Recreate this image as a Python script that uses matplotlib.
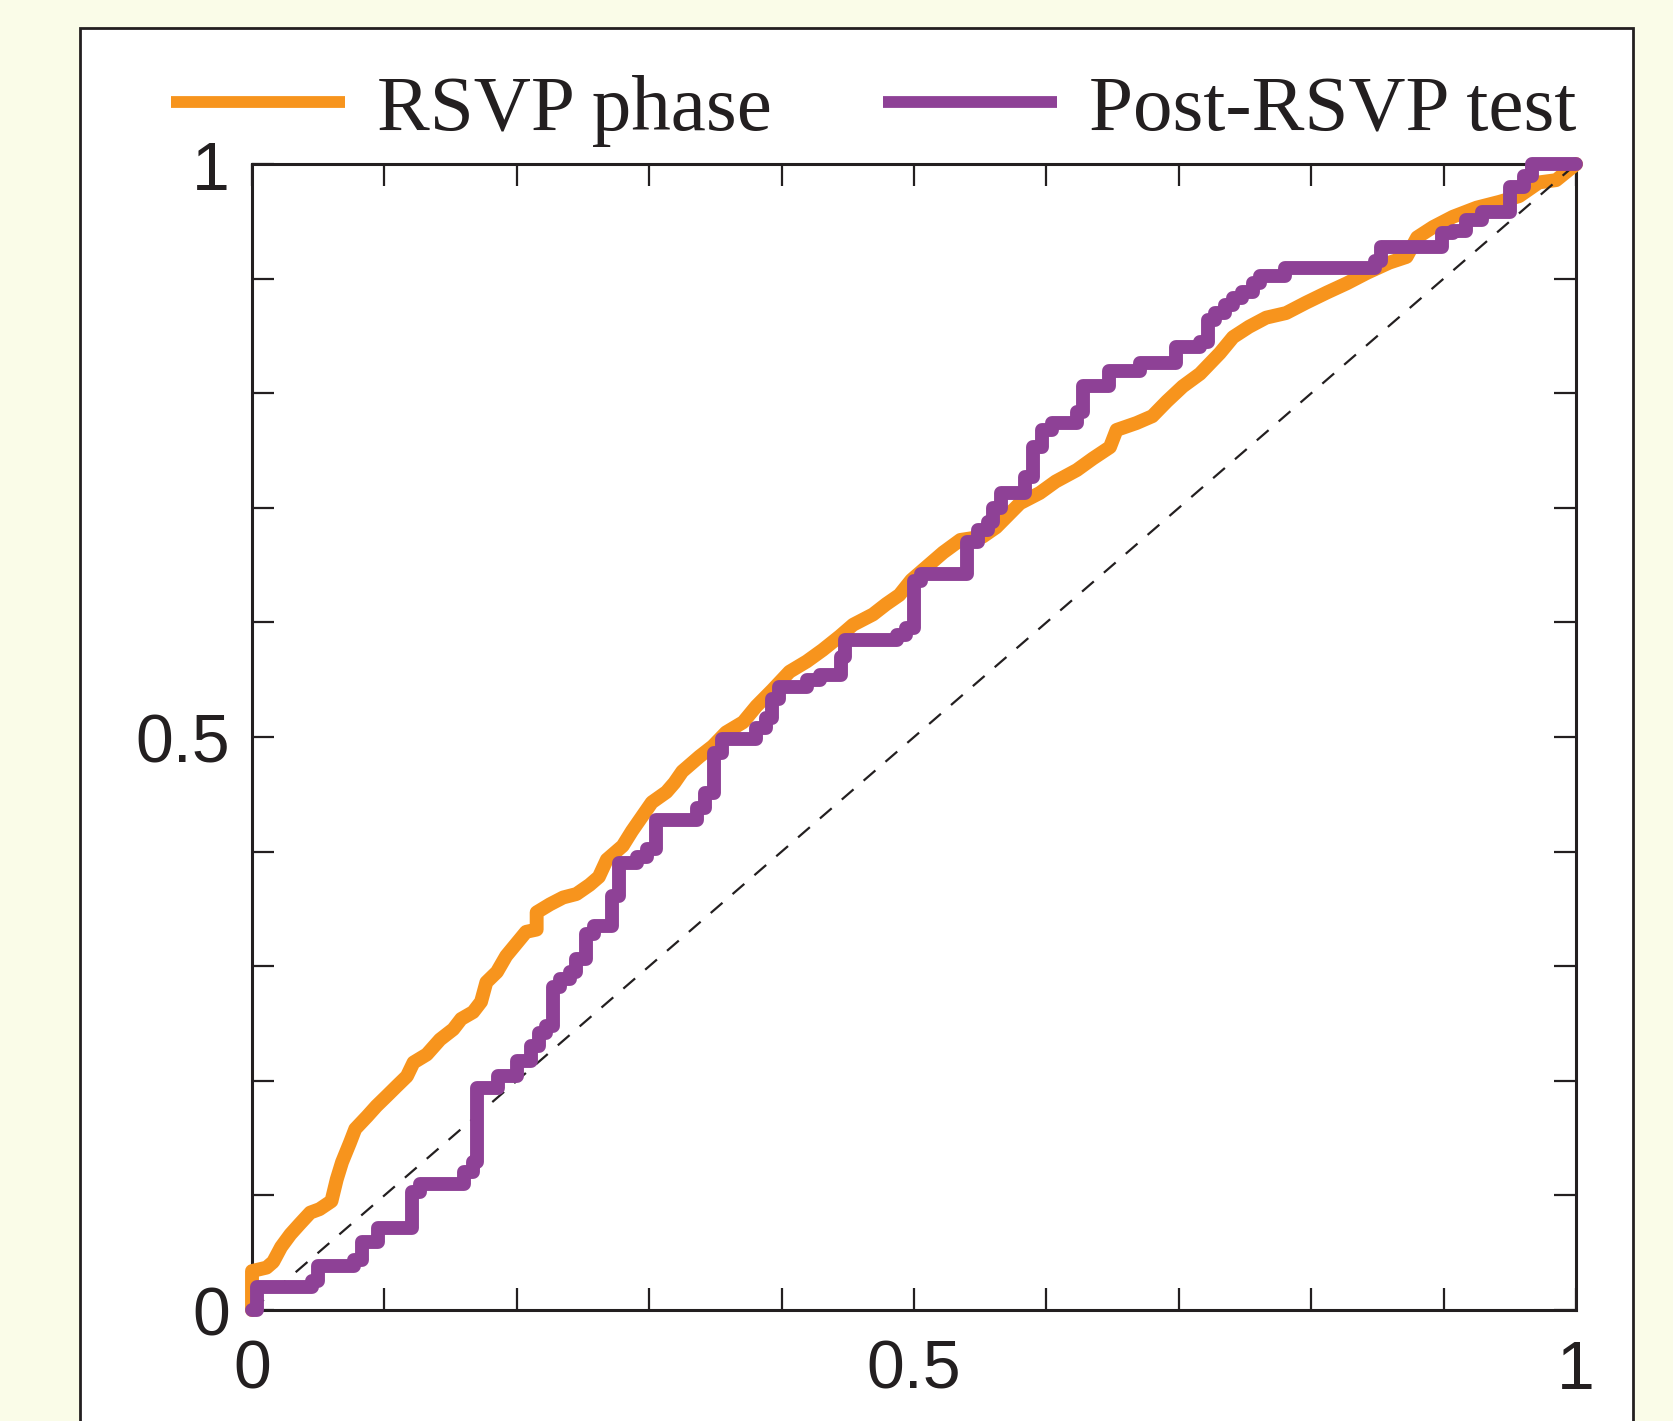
import matplotlib
matplotlib.use("Agg")
import matplotlib.pyplot as plt
from matplotlib.patches import Rectangle
import numpy as np

# RSVP phase curve (orange)
rsvp_x = [0.0, 0.0, 0.011, 0.016, 0.022, 0.029, 0.036, 0.044, 0.051, 0.060,
          0.064, 0.068, 0.074, 0.078, 0.087, 0.094, 0.102, 0.109, 0.117, 0.122,
          0.132, 0.142, 0.152, 0.158, 0.167, 0.173, 0.177, 0.185, 0.192, 0.202,
          0.207, 0.215, 0.215, 0.225, 0.235, 0.245, 0.255, 0.262, 0.268, 0.280,
          0.287, 0.293, 0.302, 0.313, 0.319, 0.325, 0.338, 0.348, 0.358, 0.371,
          0.381, 0.393, 0.406, 0.419, 0.431, 0.444, 0.454, 0.469, 0.479, 0.489,
          0.498, 0.507, 0.522, 0.535, 0.552, 0.562, 0.580, 0.595, 0.607, 0.623,
          0.635, 0.648, 0.653, 0.668, 0.680, 0.691, 0.703, 0.716, 0.731, 0.741,
          0.753, 0.766, 0.781, 0.796, 0.812, 0.827, 0.842, 0.859, 0.872, 0.880,
          0.892, 0.907, 0.925, 0.942, 0.957, 0.972, 0.985, 1.0]
rsvp_y = [0.0, 0.034, 0.037, 0.042, 0.055, 0.066, 0.075, 0.085, 0.088, 0.095,
          0.114, 0.129, 0.146, 0.158, 0.169, 0.178, 0.187, 0.195, 0.204, 0.216,
          0.223, 0.236, 0.245, 0.254, 0.260, 0.269, 0.286, 0.295, 0.309, 0.323,
          0.330, 0.332, 0.347, 0.354, 0.360, 0.363, 0.371, 0.378, 0.393, 0.405,
          0.418, 0.428, 0.443, 0.452, 0.460, 0.470, 0.483, 0.492, 0.504, 0.513,
          0.527, 0.541, 0.557, 0.566, 0.576, 0.588, 0.598, 0.607, 0.616, 0.624,
          0.637, 0.646, 0.661, 0.672, 0.675, 0.683, 0.704, 0.713, 0.723, 0.733,
          0.743, 0.753, 0.768, 0.774, 0.780, 0.793, 0.806, 0.817, 0.835, 0.849,
          0.858, 0.866, 0.870, 0.879, 0.888, 0.896, 0.905, 0.914, 0.919, 0.936,
          0.945, 0.954, 0.962, 0.967, 0.972, 0.984, 0.986, 1.0]

# Post-RSVP test curve (purple), step positions and new levels
post_x = [0.0, 0.004, 0.045, 0.050, 0.077, 0.083, 0.095, 0.121, 0.127, 0.160,
          0.167, 0.170, 0.186, 0.200, 0.211, 0.217, 0.222, 0.227, 0.233, 0.240,
          0.245, 0.252, 0.258, 0.272, 0.277, 0.291, 0.298, 0.305, 0.336, 0.342,
          0.349, 0.355, 0.381, 0.388, 0.393, 0.398, 0.419, 0.429, 0.445, 0.448,
          0.487, 0.494, 0.500, 0.505, 0.540, 0.548, 0.556, 0.560, 0.566, 0.584,
          0.590, 0.597, 0.604, 0.623, 0.628, 0.647, 0.671, 0.698, 0.716, 0.722,
          0.727, 0.735, 0.741, 0.748, 0.756, 0.761, 0.780, 0.848, 0.853, 0.899,
          0.907, 0.917, 0.929, 0.950, 0.961, 0.967, 1.0]
post_y = [0.0, 0.020, 0.025, 0.038, 0.044, 0.059, 0.072, 0.103, 0.110, 0.120,
          0.129, 0.194, 0.204, 0.217, 0.230, 0.242, 0.248, 0.282, 0.289, 0.295,
          0.306, 0.328, 0.335, 0.361, 0.390, 0.395, 0.402, 0.428, 0.438, 0.451,
          0.486, 0.498, 0.508, 0.517, 0.533, 0.544, 0.550, 0.554, 0.570, 0.585,
          0.589, 0.595, 0.636, 0.642, 0.670, 0.681, 0.688, 0.700, 0.713, 0.727,
          0.753, 0.768, 0.774, 0.784, 0.806, 0.819, 0.826, 0.840, 0.845, 0.864,
          0.870, 0.877, 0.883, 0.888, 0.896, 0.902, 0.909, 0.915, 0.928, 0.940,
          0.942, 0.951, 0.958, 0.980, 0.990, 1.0, 1.0]

legend_labels = ["RSVP phase", "Post-RSVP test"]
tick_vals = [0, 0.5, 1]
tick_text = ["0", "0.5", "1"]

orange = "#F7941D"
purple = "#8E4196"
ink = "#231F20"

fig = plt.figure(figsize=(16.74, 14.219), dpi=100, facecolor="#FAFCE8")

# white panel with dark border, behind the axes
panel = Rectangle((80 / 1674, -0.1), (1633 - 80) / 1674, 0.1 + 1 - 29 / 1422,
                  transform=fig.transFigure, facecolor="white", edgecolor=ink,
                  linewidth=2.0, zorder=-5)
fig.patches.append(panel)

ax = fig.add_axes([252 / 1674, 1 - 1311 / 1422, 1324 / 1674, 1146 / 1422])
ax.set_zorder(2)

l1, = ax.plot(rsvp_x, rsvp_y, color=orange, lw=10, solid_joinstyle="round",
              solid_capstyle="round", clip_on=False, zorder=3)
ax.plot([0, 1], [0, 1], color=ink, lw=1.6, linestyle=(0, (7, 6)), zorder=4)
l2, = ax.plot(post_x, post_y, color=purple, lw=10, drawstyle="steps-post",
              solid_joinstyle="round", solid_capstyle="round", clip_on=False,
              zorder=5)

ax.set_xlim(0, 1)
ax.set_ylim(0, 1)
ax.set_xticks(tick_vals)
ax.set_xticklabels(tick_text)
ax.set_yticks(tick_vals)
ax.set_yticklabels(tick_text)
ax.set_xticks(np.arange(0, 1.01, 0.1), minor=True)
ax.set_yticks(np.arange(0, 1.01, 0.1), minor=True)
for which in ("major", "minor"):
    ax.tick_params(axis="both", which=which, direction="in", length=16,
                   width=1.6, color=ink, top=True, right=True)
ax.tick_params(axis="x", which="major", pad=20)
ax.tick_params(axis="y", which="major", pad=16)
for lab in ax.get_xticklabels() + ax.get_yticklabels():
    lab.set_fontfamily("Liberation Sans")
    lab.set_fontsize(49)
    lab.set_color(ink)
for sp in ax.spines.values():
    sp.set_linewidth(2.2)
    sp.set_color(ink)

# legend line widths set separately from the curves
leg = ax.legend([l1, l2], legend_labels, ncol=2, loc="center left",
                bbox_to_anchor=(-0.061, 1.047), frameon=False,
                prop={"family": "Liberation Serif", "size": 57},
                handlelength=2.2, handletextpad=0.4, columnspacing=1.4,
                borderaxespad=0, borderpad=0, labelcolor=ink)
for h in leg.legend_handles:
    h.set_linewidth(8.5)
    h.set_solid_capstyle("butt")

fig.savefig("out.png", dpi=100, facecolor=fig.get_facecolor())
